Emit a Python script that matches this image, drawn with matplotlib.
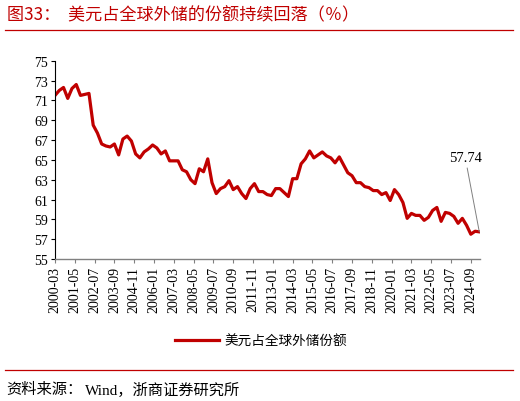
import pandas as pd
import matplotlib
matplotlib.use('Agg')
import matplotlib.pyplot as plt
from matplotlib.lines import Line2D

plt.rcParams['font.family'] = ['Liberation Serif', 'Noto Sans CJK SC', 'DejaVu Sans']

# quarterly USD share of global FX reserves (%), 2000Q1 - 2025Q1
quarters = pd.period_range('2000Q1', '2025Q1', freq='Q')
usd_share = [
    71.5, 72.0, 72.3, 71.2, 72.2, 72.6, 71.5, 71.6, 71.7, 68.5,
    67.7, 66.6, 66.4, 66.3, 66.6, 65.5, 67.1, 67.4, 66.9, 65.6,
    65.2, 65.8, 66.1, 66.5, 66.2, 65.6, 65.9, 64.9, 64.9, 64.9,
    64.0, 63.8, 63.0, 62.6, 64.1, 63.8, 65.1, 62.7, 61.6, 62.1,
    62.3, 62.9, 62.0, 62.3, 61.6, 61.1, 62.1, 62.6, 61.8, 61.8,
    61.5, 61.4, 62.1, 62.1, 61.7, 61.3, 63.1, 63.1, 64.6, 65.1,
    65.9, 65.2, 65.5, 65.8, 65.4, 65.2, 64.7, 65.3, 64.5, 63.7,
    63.4, 62.7, 62.7, 62.3, 62.2, 61.9, 61.9, 61.5, 61.7, 60.9,
    62.0, 61.5, 60.7, 59.1, 59.6, 59.4, 59.4, 58.9, 59.2, 59.9,
    60.2, 58.8, 59.7, 59.6, 59.3, 58.6, 59.1, 58.4, 57.5, 57.8,
    57.74,
]
tick_labels = [
    '2000-03', '2001-05', '2002-07', '2003-09', '2004-11', '2006-01',
    '2007-03', '2008-05', '2009-07', '2010-09', '2011-11', '2013-01',
    '2014-03', '2015-05', '2016-07', '2017-09', '2018-11', '2020-01',
    '2021-03', '2022-05', '2023-07', '2024-09',
]
last_label = '57.74'


def month_index(y, m):
    return (y - 2000) * 12 + m - 3


x = [month_index(q.year, q.quarter * 3) for q in quarters]
tick_pos = [month_index(int(t[:4]), int(t[5:])) for t in tick_labels]

red = '#C00000'
fig = plt.figure(figsize=(5.2, 4.02), dpi=100)
ax = fig.add_axes([0.1058, 0.3532, 0.8173, 0.4933])

line, = ax.plot(x, usd_share, color=red, lw=2.3, solid_joinstyle='round',
                label='美元占全球外储份额')

ax.set_xlim(0, 300.5)
ax.set_ylim(55, 75)
ax.set_yticks(range(55, 76, 2))
ax.set_xticks(tick_pos)
ax.set_xticklabels(tick_labels, rotation=90, fontsize=10)
ax.tick_params(axis='y', labelsize=10, length=3, direction='out', pad=2)
ax.tick_params(axis='x', length=3, direction='out', color='#808080', pad=2)
for s in ['top', 'right']:
    ax.spines[s].set_visible(False)
ax.spines['left'].set_color('black')
ax.spines['bottom'].set_color('#808080')
ax.spines['bottom'].set_linewidth(1.0)

ax.annotate(last_label, xy=(x[-1], usd_share[-1]), xytext=(290, 64.6),
            ha='center', va='bottom', fontsize=10.5,
            arrowprops=dict(arrowstyle='-', color='#808080', lw=0.7,
                            shrinkA=1, shrinkB=0))

fig.legend(handles=[line], loc='center', bbox_to_anchor=(0.502, 0.149),
           frameon=False, handlelength=3.2, handletextpad=0.4,
           prop={'family': ['Noto Sans CJK SC'], 'size': 9.8})

fig.text(0.013, 0.962, '图33：  美元占全球外储的份额持续回落（％）', color=red,
         fontsize=12.3, va='center', ha='left', family=['Noto Sans CJK SC'])
fig.add_artist(Line2D([0.01, 0.987], [0.923, 0.923], color=red, lw=0.9,
                      transform=fig.transFigure))
fig.add_artist(Line2D([0.01, 0.987], [0.077, 0.077], color=red, lw=0.9,
                      transform=fig.transFigure))

# footer: chinese part, then serif "Wind", placed right after
src = fig.text(0.013, 0.03, '资料来源：', fontsize=11, va='center', ha='left',
               family=['Noto Sans CJK SC'])
fig.canvas.draw()
bb = src.get_window_extent(fig.canvas.get_renderer())
x_next = bb.x1 / fig.bbox.width + 0.004
fig.text(x_next, 0.03, 'Wind，浙商证券研究所', fontsize=11, va='center', ha='left',
         family=['Liberation Serif', 'Noto Sans CJK SC'])

fig.savefig('out.png', dpi=100)
